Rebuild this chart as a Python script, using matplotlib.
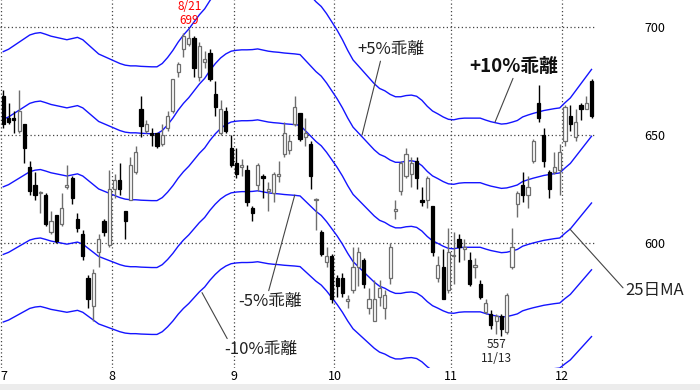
from __future__ import annotations

import matplotlib

matplotlib.use("Agg")

import matplotlib.pyplot as plt
from matplotlib.patches import Rectangle

plt.rcParams["font.family"] = ["Noto Sans CJK JP", "DejaVu Sans"]

# daily candles, July -> early December (trading-day index)
OPEN = [668, 658, 658, 652, 655, 635, 627, 623, 622, 605, 613, 609, 626, 630, 611, 604, 584, 571, 596, 610,
        599, 625, 629, 615, 620, 633, 662, 652, 651, 651, 646, 653, 661, 679, 690, 692, 695, 677, 684, 688,
        669, 651, 661, 644, 637, 635, 634, 616, 627, 631, 624, 623, 631, 641, 643, 655, 660, 649, 646, 620,
        605, 591, 594, 584, 584, 573, 578, 589, 592, 570, 564, 575, 570, 584, 615, 624, 631, 632, 638, 620,
        620, 617, 584, 589, 578, 594, 602, 597, 592, 589, 581, 568, 567, 564, 566, 559, 589, 618, 627, 622,
        638, 665, 650, 633, 633, 634, 647, 659, 649, 664, 662, 675]
HIGH = [671, 665, 661, 671, 655, 638, 633, 624, 623, 615, 613, 623, 636, 631, 614, 606, 585, 588, 604, 611,
        634, 632, 637, 615, 640, 645, 668, 657, 653, 651, 655, 661, 676, 684, 697, 699, 696, 693, 689, 690,
        675, 666, 663, 650, 644, 639, 636, 617, 637, 632, 628, 633, 638, 656, 650, 668, 660, 658, 647, 621,
        606, 598, 595, 585, 586, 576, 598, 598, 593, 579, 583, 583, 578, 600, 620, 638, 644, 640, 640, 626,
        631, 617, 594, 597, 607, 605, 604, 602, 596, 593, 583, 574, 569, 567, 567, 577, 607, 624, 633, 631,
        648, 673, 653, 634, 642, 646, 664, 664, 662, 665, 668, 676]
LOW = [653, 655, 651, 651, 637, 622, 620, 614, 608, 604, 600, 608, 625, 618, 605, 592, 570, 564, 589, 603,
       598, 621, 622, 602, 620, 632, 649, 651, 645, 644, 645, 652, 660, 677, 686, 691, 677, 675, 681, 675,
       659, 650, 651, 635, 630, 631, 617, 610, 624, 621, 615, 619, 628, 640, 641, 654, 647, 645, 625, 606,
       594, 589, 572, 575, 575, 570, 577, 580, 579, 567, 564, 571, 565, 581, 611, 622, 630, 626, 625, 617,
       616, 594, 582, 574, 577, 581, 591, 592, 580, 584, 574, 567, 560, 558, 557, 558, 588, 612, 619, 616,
       637, 656, 635, 621, 632, 622, 645, 652, 647, 657, 662, 658]
CLOSE = [655, 656, 657, 661, 644, 624, 622, 623, 609, 610, 601, 616, 627, 621, 607, 594, 574, 586, 602, 605,
         625, 629, 625, 610, 636, 642, 654, 655, 650, 645, 650, 659, 676, 683, 696, 695, 681, 691, 685, 676,
         663, 662, 652, 636, 632, 636, 619, 614, 636, 630, 625, 632, 632, 651, 647, 663, 648, 651, 631, 620,
         595, 594, 574, 580, 577, 574, 589, 596, 581, 574, 574, 579, 576, 598, 615, 637, 641, 637, 630, 619,
         630, 596, 590, 574, 596, 594, 598, 598, 581, 590, 575, 572, 562, 566, 560, 576, 598, 623, 622, 626,
         647, 658, 638, 625, 635, 642, 663, 655, 656, 662, 665, 659]

# 25-day moving average as drawn on the chart
MA25 = [626, 627, 628.5, 630, 631.5, 633, 633.7, 634, 633.3, 632.5, 632, 631.5, 631, 631.5, 632, 631, 629, 627,
        625, 624, 623, 622, 621, 620.3, 620, 620, 619.8, 619.7, 619.6, 619.6, 621, 623.5, 626.5, 630, 633, 635.5,
        638.5, 641.5, 644, 647.5, 650.5, 653, 654.8, 656, 656.4, 656.6, 656.6, 656.7, 657, 656.5, 656, 655.7,
        655.5, 655.2, 655, 654.8, 654.5, 652, 649.5, 647, 645, 642, 638.5, 635, 631, 626.5, 622.5, 620, 617.5,
        615, 612.5, 610.5, 609.5, 608, 607, 607, 607.5, 607.7, 607.2, 605.5, 603, 601, 599.8, 598.5, 597.5,
        597.3, 597.8, 598, 598, 598, 598, 597.2, 596.5, 596, 595.5, 595.7, 596.3, 597, 598.5, 599.3, 600, 600.6,
        601.2, 601.6, 602, 602.3, 604.5, 606.5, 609.5, 612.5, 615.5, 618.5]
ENVELOPES = [0.10, 0.05, -0.05, -0.10]

MONTH_LABELS = ["7", "8", "9", "10", "11", "12"]
MONTH_START = [0, 21, 44, 63, 85, 106]
PRICE_TICKS = [600, 650, 700]

BLUE = "#1414ff"
DOT = (0, (1, 2))


def _draw_candles(ax) -> None:
    idx = list(range(len(CLOSE)))
    up = [c >= o for o, c in zip(OPEN, CLOSE)]
    edge = ["#6e6e6e" if u else "black" for u in up]
    ax.vlines(idx, LOW, HIGH, colors=edge, lw=1, zorder=3)
    bottoms = [min(o, c) for o, c in zip(OPEN, CLOSE)]
    heights = [max(abs(c - o), 0.5) for o, c in zip(OPEN, CLOSE)]
    ax.bar(idx, heights, width=0.6, bottom=bottoms,
           color=["white" if u else "black" for u in up],
           edgecolor=edge, linewidth=0.9, zorder=4)


def _draw_averages(ax) -> None:
    x = list(range(len(MA25)))
    ax.plot(x, MA25, color=BLUE, lw=1, zorder=2)
    for k in ENVELOPES:
        ax.plot(x, [m * (1 + k) for m in MA25], color=BLUE, lw=1, zorder=2)


def _annotate(ax) -> None:
    line = dict(arrowstyle="-", color="#444444", lw=0.8, shrinkA=0, shrinkB=0)
    ax.annotate("+5%乖離", xy=(67.7, 650), xytext=(73.2, 689.4), ha="center", va="center",
                fontsize=12, color="#222222", arrowprops=dict(line, relpos=(0.35, 0)))
    ax.annotate("+10%乖離", xy=(92.8, 656), xytext=(96.4, 681.9), ha="center", va="center",
                fontsize=13.5, fontweight="bold", color="#111111",
                arrowprops=dict(line, relpos=(0.5, 0)))
    ax.annotate("-5%乖離", xy=(55.0, 622.2), xytext=(50.3, 572.7), ha="center", va="center",
                fontsize=12, color="#222222", arrowprops=dict(line, relpos=(0.47, 1)))
    ax.annotate("-10%乖離", xy=(37.5, 577), xytext=(48.6, 550.5), ha="center", va="center",
                fontsize=12, color="#222222", arrowprops=dict(line, relpos=(0.06, 1)))
    ax.annotate("25日MA", xy=(106.9, 606.5), xytext=(123.0, 577.8), ha="center", va="center",
                fontsize=12, color="#222222", annotation_clip=False,
                arrowprops=dict(line, relpos=(0, 0.5)))

    hi = HIGH.index(max(HIGH))
    ax.annotate(f"8/21\n{max(HIGH)}", xy=(hi, max(HIGH)), xytext=(0.5, 1.5), textcoords="offset points",
                ha="center", va="bottom", fontsize=8.5, color="red", linespacing=1.15,
                annotation_clip=False)
    lo = LOW.index(min(LOW))
    ax.annotate(f"{min(LOW)}\n11/13", xy=(lo, min(LOW)), xytext=(-3.5, -1.5), textcoords="offset points",
                ha="center", va="top", fontsize=8.5, color="#222222", linespacing=1.1)


def main() -> None:
    fig = plt.figure(figsize=(7, 3.9), dpi=100)
    fig.add_artist(Rectangle((0, 0), 1, 6 / 390, transform=fig.transFigure,
                             facecolor="#ececec", edgecolor="none"))
    ax = fig.add_axes([0, 22 / 390, 600 / 700, 368 / 390])
    for s in ax.spines.values():
        s.set_visible(False)
    ax.set_xlim(-0.62, 112.6)
    ax.set_ylim(542.1, 712.5)

    month_pos = [m - 0.5 for m in MONTH_START]
    for xm in month_pos:
        ax.axvline(xm, color="#444444", lw=0.9, ls=DOT, zorder=1)
    ax.hlines(PRICE_TICKS, -0.62, 111.8, colors="#444444", lw=0.9, linestyles=DOT, zorder=1)

    _draw_averages(ax)
    _draw_candles(ax)
    _annotate(ax)

    ax.set_xticks(month_pos)
    ax.set_xticklabels(MONTH_LABELS)
    ax.get_xticklabels()[0].set_ha("left")
    ax.tick_params(axis="x", length=0, pad=1.5, labelsize=9)
    ax.yaxis.tick_right()
    ax.set_yticks(PRICE_TICKS)
    ax.tick_params(axis="y", length=0, pad=32, labelsize=9)

    fig.savefig("out.png", dpi=100)
    plt.close(fig)


if __name__ == "__main__":
    main()
